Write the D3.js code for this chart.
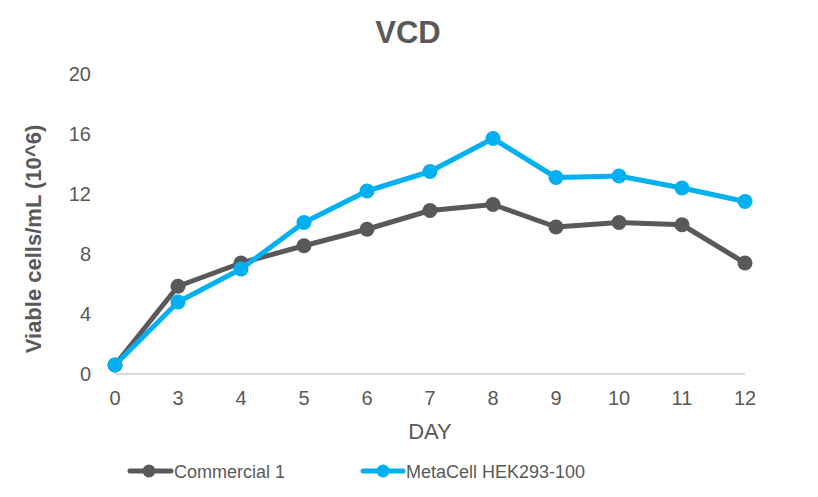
<!DOCTYPE html>
<html><head><meta charset="utf-8">
<script src="https://cdn.jsdelivr.net/npm/d3@7"></script>
<style>html,body{margin:0;padding:0;background:#fff;}svg{display:block;font-family:"Liberation Sans",Arial,sans-serif;}</style>
</head><body>
<svg id="c" width="818" height="497"></svg>
<script>
const days = ["0","3","4","5","6","7","8","9","10","11","12"];
const commercial = [0.6,5.85,7.4,8.55,9.65,10.9,11.3,9.8,10.1,9.95,7.4];
const metacell = [0.6,4.8,7.0,10.1,12.2,13.5,15.7,13.1,13.2,12.4,11.5];
const yTicks = [0,4,8,12,16,20];
const seriesNames = ["Commercial 1","MetaCell HEK293-100"];
const colors = ["#595959","#00B0F0"];

const svg = d3.select("#c");
const x = d3.scalePoint().domain(days).range([115,745]);
const y = d3.scaleLinear().domain([0,20]).range([374,74]);
const txt = "#595959";

svg.append("text").attr("x",408).attr("y",43).attr("text-anchor","middle")
  .attr("font-size",31).attr("font-weight","bold").attr("fill",txt).text("VCD");

// x axis line
svg.append("line").attr("x1",x.range()[0]).attr("x2",x.range()[1])
  .attr("y1",y(0)).attr("y2",y(0)).attr("stroke","#d9d9d9").attr("stroke-width",2);

// y tick labels
svg.append("g").selectAll("text").data(yTicks).join("text")
  .attr("x",91).attr("y",d=>y(d)+7).attr("text-anchor","end")
  .attr("font-size",20).attr("fill",txt).text(d=>d);

// x tick labels
svg.append("g").selectAll("text").data(days).join("text")
  .attr("x",d=>x(d)).attr("y",405).attr("text-anchor","middle")
  .attr("font-size",20).attr("fill",txt).text(d=>d);

svg.append("text").attr("x",430).attr("y",439).attr("text-anchor","middle")
  .attr("font-size",22).attr("fill",txt).text("DAY");

svg.append("text").attr("transform","translate(41,239) rotate(-90)")
  .attr("text-anchor","middle").attr("font-size",22).attr("font-weight","bold")
  .attr("fill",txt).text("Viable cells/mL (10^6)");

const line = d3.line().x((d,i)=>x(days[i])).y(d=>y(d));
[commercial, metacell].forEach((vals,si)=>{
  const g = svg.append("g");
  g.append("path").datum(vals).attr("d",line).attr("fill","none")
    .attr("stroke",colors[si]).attr("stroke-width",5).attr("stroke-linejoin","round");
  g.selectAll("circle").data(vals).join("circle")
    .attr("cx",(d,i)=>x(days[i])).attr("cy",d=>y(d)).attr("r",7.5).attr("fill",colors[si]);
});

// legend
const leg = [{x1:130,x2:171,cx:149,tx:174},{x1:363,x2:403,cx:383,tx:406}];
leg.forEach((l,i)=>{
  const g = svg.append("g");
  g.append("line").attr("x1",l.x1).attr("x2",l.x2).attr("y1",471).attr("y2",471)
    .attr("stroke",colors[i]).attr("stroke-width",5).attr("stroke-linecap","round");
  g.append("circle").attr("cx",l.cx).attr("cy",471).attr("r",6.5).attr("fill",colors[i]);
  g.append("text").attr("x",l.tx).attr("y",477.5).attr("font-size",18).attr("fill",txt).text(seriesNames[i]);
});
</script>
</body></html>
